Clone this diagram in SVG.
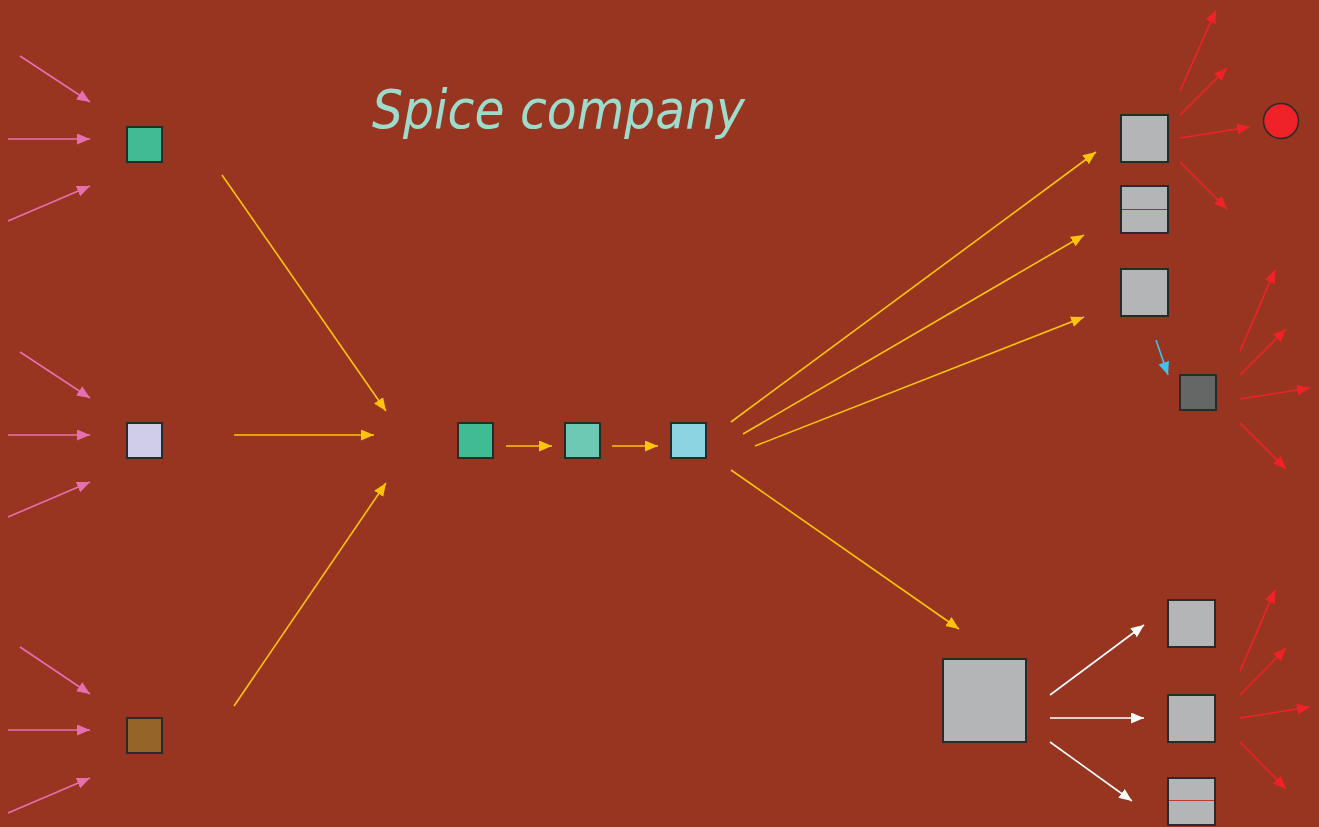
<svg xmlns="http://www.w3.org/2000/svg" width="1319" height="827" viewBox="0 0 1319 827">
<style>
.bg{fill:#983521}
.n{stroke:#2a2a2a;stroke-width:2}
.g{fill:#b4b5b7}
.pk{stroke:#e66fb0;stroke-width:1.6;fill:none;marker-end:url(#mpk)}
.yl{stroke:#fcc40a;stroke-width:1.6;fill:none;marker-end:url(#myl)}
.rd{stroke:#ee2227;stroke-width:1.6;fill:none;marker-end:url(#mrd)}
.wh{stroke:#ffffff;stroke-width:1.6;fill:none;marker-end:url(#mwh)}
.cy{stroke:#3ec3ec;stroke-width:1.6;fill:none;marker-end:url(#mcy)}
.title{font-family:"Comic Sans MS","DejaVu Sans",sans-serif;font-style:italic;font-size:54px;fill:#9ddbcc}
</style>
<defs>
<marker id="mpk" markerUnits="userSpaceOnUse" markerWidth="15" markerHeight="12" refX="13" refY="5.5" orient="auto"><path d="M0,0 L13,5.5 L0,11 Z" fill="#e66fb0"/></marker>
<marker id="myl" markerUnits="userSpaceOnUse" markerWidth="15" markerHeight="12" refX="13" refY="5.5" orient="auto"><path d="M0,0 L13,5.5 L0,11 Z" fill="#fcc40a"/></marker>
<marker id="mrd" markerUnits="userSpaceOnUse" markerWidth="15" markerHeight="12" refX="13" refY="5.5" orient="auto"><path d="M0,0 L13,5.5 L0,11 Z" fill="#ee2227"/></marker>
<marker id="mwh" markerUnits="userSpaceOnUse" markerWidth="15" markerHeight="12" refX="13" refY="5.5" orient="auto"><path d="M0,0 L13,5.5 L0,11 Z" fill="#ffffff"/></marker>
<marker id="mcy" markerUnits="userSpaceOnUse" markerWidth="15" markerHeight="12" refX="13" refY="5.5" orient="auto"><path d="M0,0 L13,5.5 L0,11 Z" fill="#3ec3ec"/></marker>
</defs>
<rect class="bg" x="0" y="0" width="1319" height="827"/>
<text id="title" class="title" x="372" y="128" textLength="373" lengthAdjust="spacingAndGlyphs">Spice company</text>

<g id="src1"><rect class="n" x="127" y="127" width="35" height="35" fill="#40bc94"/></g>
<g id="src2"><rect class="n" x="127" y="423" width="35" height="35" fill="#d0cdea"/></g>
<g id="src3"><rect class="n" x="127" y="718" width="35" height="35" fill="#956428"/></g>
<g id="c1"><rect class="n" x="458" y="423" width="35" height="35" fill="#40bc94"/></g>
<g id="c2"><rect class="n" x="565" y="423" width="35" height="35" fill="#6dc8b4"/></g>
<g id="c3"><rect class="n" x="671" y="423" width="35" height="35" fill="#8cd4e2"/></g>
<g id="r1"><rect class="n g" x="1121" y="115" width="47" height="47"/></g>
<g id="r2"><rect class="n g" x="1121" y="186" width="47" height="47"/><line x1="1122" y1="209.5" x2="1167" y2="209.5" stroke="#983521" stroke-width="1"/></g>
<g id="r3"><rect class="n g" x="1121" y="269" width="47" height="47"/></g>
<g id="r4"><rect class="n" x="1180" y="375" width="36" height="35" fill="#656666"/></g>
<g id="circle"><circle cx="1281" cy="121" r="17.5" fill="#ee2227" stroke="#2a2a2a" stroke-width="1.5"/></g>
<g id="big"><rect class="n g" x="943" y="659" width="83" height="83"/></g>
<g id="b1"><rect class="n g" x="1168" y="600" width="47" height="47"/></g>
<g id="b2"><rect class="n g" x="1168" y="695" width="47" height="47"/></g>
<g id="b3"><rect class="n g" x="1168" y="778" width="47" height="47"/><line x1="1169" y1="800.5" x2="1214" y2="800.5" stroke="#c0392b" stroke-width="1.2"/></g>

<g id="connectors">
<line class="pk" x1="20" y1="56" x2="90" y2="102"/>
<line class="pk" x1="8" y1="139" x2="90" y2="139"/>
<line class="pk" x1="8" y1="221" x2="90" y2="186"/>
<line class="pk" x1="20" y1="352" x2="90" y2="398"/>
<line class="pk" x1="8" y1="435" x2="90" y2="435"/>
<line class="pk" x1="8" y1="517" x2="90" y2="482"/>
<line class="pk" x1="20" y1="647" x2="90" y2="694"/>
<line class="pk" x1="8" y1="730" x2="90" y2="730"/>
<line class="pk" x1="8" y1="813" x2="90" y2="778"/>

<line class="yl" x1="222" y1="175" x2="386" y2="411"/>
<line class="yl" x1="234" y1="435" x2="374" y2="435"/>
<line class="yl" x1="234" y1="706" x2="386" y2="483"/>
<line class="yl" x1="506" y1="446" x2="552" y2="446"/>
<line class="yl" x1="612" y1="446" x2="658" y2="446"/>
<line class="yl" x1="731" y1="422" x2="1096" y2="152"/>
<line class="yl" x1="743" y1="434" x2="1084" y2="235"/>
<line class="yl" x1="755" y1="446" x2="1084" y2="317"/>
<line class="yl" x1="731" y1="470" x2="959" y2="629"/>

<line class="rd" x1="1180" y1="91" x2="1216" y2="10"/>
<line class="rd" x1="1180" y1="115" x2="1227" y2="68"/>
<line class="rd" x1="1180" y1="138" x2="1250" y2="127"/>
<line class="rd" x1="1180" y1="162" x2="1227" y2="209"/>

<line class="cy" x1="1156" y1="340" x2="1168" y2="375"/>

<line class="rd" x1="1240" y1="351" x2="1275" y2="270"/>
<line class="rd" x1="1240" y1="375" x2="1286" y2="329"/>
<line class="rd" x1="1240" y1="399" x2="1310" y2="388"/>
<line class="rd" x1="1240" y1="423" x2="1286" y2="469"/>

<line class="wh" x1="1050" y1="695" x2="1144" y2="625"/>
<line class="wh" x1="1050" y1="718" x2="1144" y2="718"/>
<line class="wh" x1="1050" y1="742" x2="1132" y2="801"/>

<line class="rd" x1="1240" y1="671" x2="1275" y2="590"/>
<line class="rd" x1="1240" y1="695" x2="1286" y2="648"/>
<line class="rd" x1="1240" y1="718" x2="1310" y2="707"/>
<line class="rd" x1="1240" y1="742" x2="1286" y2="789"/>
</g>
</svg>
